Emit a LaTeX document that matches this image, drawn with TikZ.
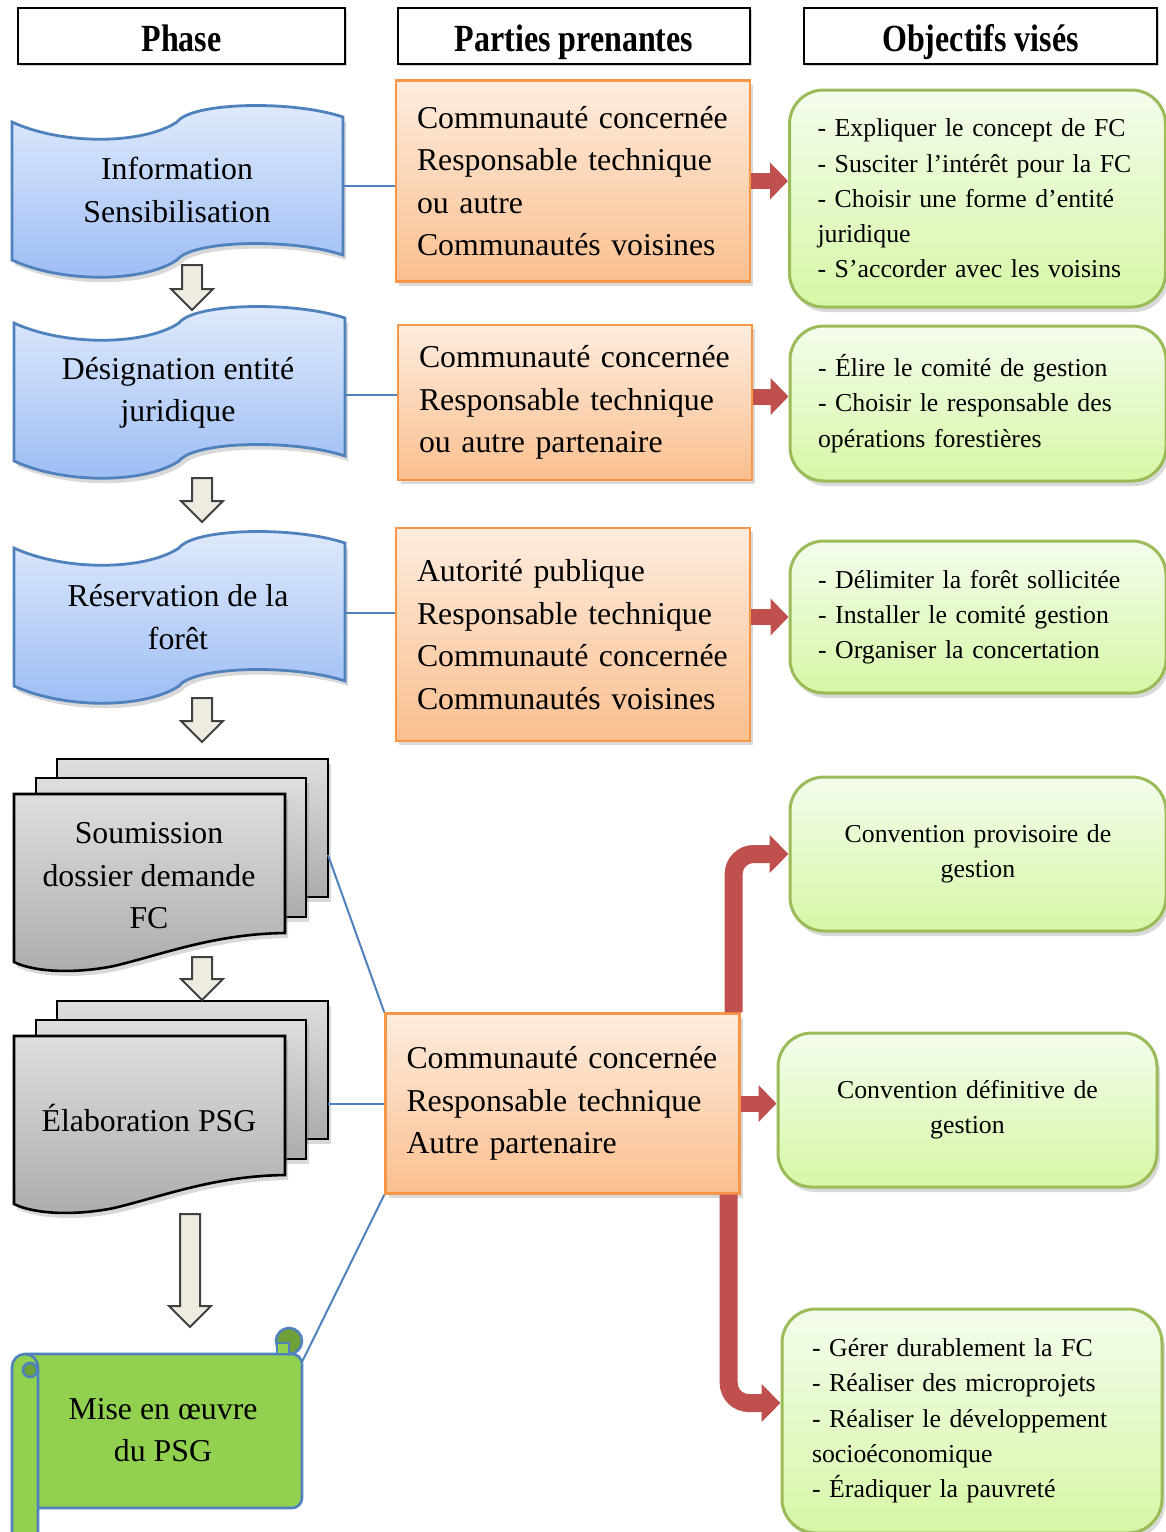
\documentclass[tikz,border=0pt]{standalone}
\usepackage{fontspec}
\usepackage{graphicx}
\setmainfont{Liberation Serif}
\usetikzlibrary{arrows.meta,shadows}

\definecolor{bluetop}{RGB}{224,235,252}
\definecolor{bluebot}{RGB}{156,188,244}
\definecolor{blueline}{RGB}{79,129,189}
\definecolor{graytop}{RGB}{222,222,222}
\definecolor{graybot}{RGB}{172,172,172}
\definecolor{orangetop}{RGB}{253,236,222}
\definecolor{orangebot}{RGB}{250,191,143}
\definecolor{orangeline}{RGB}{247,150,70}
\definecolor{greentop}{RGB}{244,252,236}
\definecolor{greenbot}{RGB}{214,247,166}
\definecolor{greenline}{RGB}{155,187,89}
\definecolor{redarrow}{RGB}{192,80,77}
\definecolor{scrollgreen}{RGB}{146,208,80}
\definecolor{scrolldark}{RGB}{112,160,58}
\definecolor{beige}{RGB}{238,236,225}

% block arrow between two phases: centre x, top, tip
\newcommand{\phasearrow}[3]{%
  \draw[blockarr] (#1-10,#2) -- (#1+10,#2) -- (#1+10,#3-21) -- (#1+21,#3-21)
    -- (#1,#3) -- (#1-21,#3-21) -- (#1-10,#3-21) -- cycle;}
\newcommand{\tallbf}[1]{\raisebox{-7.5pt}[0pt][0pt]{\scalebox{1}[1.2]{#1}}}

\begin{document}
\begin{tikzpicture}[x=0.5pt,y=-0.5pt]
  \tikzset{
    header/.style={draw=black, line width=1.2pt, fill=white, minimum height=28pt,
      font=\fontsize{16}{19}\selectfont\bfseries,
      drop shadow={opacity=0.35, shadow xshift=1pt, shadow yshift=-1pt}},
    wavestyle/.style={draw=blueline, line width=1.4pt, top color=bluetop, bottom color=bluebot,
      drop shadow={opacity=0.3, shadow xshift=1.5pt, shadow yshift=-2.5pt}},
    docstyle/.style={draw=black, line width=1.3pt, top color=graytop, bottom color=graybot,
      drop shadow={opacity=0.3, shadow xshift=1.5pt, shadow yshift=-2.5pt}},
    scrollstyle/.style={draw=blueline, line width=1.3pt, fill=scrollgreen},
    phasetext/.style={align=center, font=\fontsize{15.9}{21.25}\selectfont},
    actor/.style={draw=orangeline, line width=1.2pt, top color=orangetop, bottom color=orangebot,
      minimum width=177pt, text width=156pt, inner xsep=10.5pt, align=left,
      font=\fontsize{15.9}{21.25}\selectfont,
      drop shadow={opacity=0.3, shadow xshift=1.5pt, shadow yshift=-2pt}},
    goal/.style={draw=greenline, line width=1.5pt, rounded corners=17pt,
      top color=greentop, bottom color=greenbot,
      minimum width=187.5pt, text width=160pt, inner xsep=14pt, align=left,
      font=\fontsize{12.9}{17.65}\selectfont,
      drop shadow={opacity=0.3, shadow xshift=1.5pt, shadow yshift=-2.5pt}},
    link/.style={draw=blueline, line width=1pt},
    redarr/.style={draw=redarrow, line width=8pt, -{Triangle[width=18pt,length=9pt]}},
    bentarr/.style={draw=redarrow, line width=9pt, rounded corners=10pt,
      -{Triangle[width=18.5pt,length=9.5pt]}},
    blockarr/.style={draw=black!75, line width=1pt, fill=beige},
    wave/.pic={
      \draw[wavestyle] (0,17) .. controls (50,40) and (130,40) .. (165,17)
        .. controls (180,-3) and (280,-5) .. (331,12) -- (331,150)
        .. controls (280,133) and (180,135) .. (165,155)
        .. controls (130,178) and (50,178) .. (0,155) -- cycle;},
    docstack/.pic={
      \draw[docstyle] (43,-35) rectangle (314,103);
      \draw[docstyle] (22,-16) rectangle (292,123);
      \draw[docstyle] (0,0) -- (271,0) -- (271,139)
        .. controls (200,140) and (150,160) .. (100,172)
        .. controls (60,180) and (20,178) .. (0,168) -- cycle;}
  }
  \useasboundingbox (0,0) rectangle (1166,1532);

  % column titles
  \node[header, minimum width=163.5pt] (h1) at (181.5,36) {\tallbf{Phase}};
  \node[header, minimum width=176pt] (h2) at (574,36) {\tallbf{Parties prenantes}};
  \node[header, minimum width=176.5pt] (h3) at (980.5,36) {\tallbf{Objectifs visés}};

  % phases
  \pic at (12,105) {wave};
  \pic at (14,306) {wave};
  \pic at (14,531) {wave};
  \pic at (14,794) {docstack};
  \pic at (14,1036) {docstack};

  \draw[scrollstyle, rounded corners=5pt] (25,1354) -- (302,1354) -- (302,1508) -- (25,1508);
  \draw[scrollstyle, fill=scrolldark] (289,1341) circle (13);
  \draw[scrollstyle] (277,1343) rectangle (289,1354);
  \draw[scrollstyle, rounded corners=6.5pt] (12,1354) rectangle (38,1560);
  \draw[scrollstyle, fill=scrolldark] (30,1370) circle (7);

  \node[phasetext] (ph1) at (177,190) {Information\\Sensibilisation};
  \node[phasetext] (ph2) at (178,393) {Désignation entité\\juridique};
  \node[phasetext] (ph3) at (178,617) {Réservation de la\\forêt};
  \node[phasetext] (ph4) at (149,876) {Soumission\\dossier demande\\FC};
  \node[phasetext] (ph5) at (149,1118) {Élaboration PSG};
  \node[phasetext] (ph6) at (163,1430) {Mise en œuvre\\du PSG};

  \coordinate (e1) at (343,186);
  \coordinate (e2) at (345,395);
  \coordinate (e3) at (345,613);
  \coordinate (e4) at (328,855);
  \coordinate (e5) at (328,1104);
  \coordinate (e6) at (302,1362);

  \phasearrow{192}{265}{310}
  \phasearrow{202}{478}{522}
  \phasearrow{202}{698}{742}
  \phasearrow{202}{957}{1000}
  \phasearrow{190}{1214}{1327}

  % stakeholders
  \node[actor, minimum height=100.5pt] (o1) at (573,181)
    {Communauté concernée\\Responsable technique\\ou autre\\Communautés voisines};
  \node[actor, minimum height=77.5pt] (o2) at (575,402.5)
    {Communauté concernée\\Responsable technique\\ou autre partenaire};
  \node[actor, minimum height=106.5pt] (o3) at (573,634.5)
    {Autorité publique\\Responsable technique\\Communauté concernée\\Communautés voisines};
  \node[actor, minimum height=90pt] (o4) at (562.5,1103.5)
    {Communauté concernée\\Responsable technique\\Autre partenaire};

  % objectives
  \node[goal, minimum height=108.5pt] (g1) at (977.5,198.5)
    {- Expliquer le concept de FC\\- Susciter l’intérêt pour la FC\\- Choisir une forme d’entité\\juridique\\- S’accorder avec les voisins};
  \node[goal, minimum height=77.5pt] (g2) at (978,403.5)
    {- Élire le comité de gestion\\- Choisir le responsable des\\opérations forestières};
  \node[goal, minimum height=76pt] (g3) at (978,617)
    {- Délimiter la forêt sollicitée\\- Installer le comité gestion\\- Organiser la concertation};
  \node[goal, minimum height=77pt, align=center] (g4) at (978,854)
    {Convention provisoire de\\gestion};
  \node[goal, minimum height=77pt, minimum width=189.5pt, align=center] (g5) at (967.5,1110)
    {Convention définitive de\\gestion};
  \node[goal, minimum height=112pt, minimum width=190pt, inner xsep=15pt] (g6) at (972,1421)
    {- Gérer durablement la FC\\- Réaliser des microprojets\\- Réaliser le développement\\socioéconomique\\- Éradiquer la pauvreté};

  % links
  \draw[link] (e1) -- (e1 -| o1.west);
  \draw[link] (e2) -- (e2 -| o2.west);
  \draw[link] (e3) -- (e3 -| o3.west);
  \draw[link] (e4) -- (o4.north west);
  \draw[link] (e5) -- (e5 -| o4.west);
  \draw[link] (e6) -- (o4.south west);

  \draw[redarr] (o1.east) -- (o1.east -| g1.west);
  \draw[redarr] ([yshift=3pt]o2.east) -- ([yshift=3pt]o2.east -| g2.west);
  \draw[redarr] (g3.west -| o3.east) -- (g3.west);
  \draw[redarr] (o4.east) -- (o4.east -| g5.west);
  \draw[bentarr] ([xshift=-3.5pt]o4.north east) |- (g4.west);
  \draw[bentarr] ([xshift=-6pt]o4.south east) |- ([yshift=9pt]g6.west);
\end{tikzpicture}
\end{document}
